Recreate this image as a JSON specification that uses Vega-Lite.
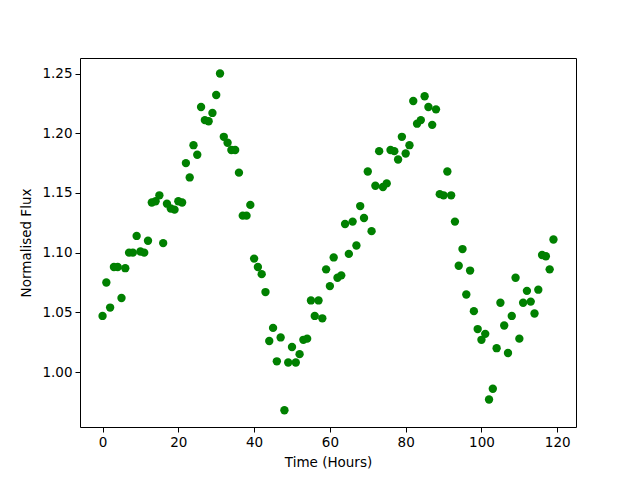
{
  "$schema": "https://vega.github.io/schema/vega-lite/v6.json",
  "width": 496,
  "height": 369,
  "autosize": "none",
  "padding": {"left": 80, "top": 58, "right": 64, "bottom": 53},
  "background": "white",
  "config": {
    "view": {"stroke": "black", "strokeWidth": 1},
    "axis": {
      "grid": false,
      "domain": false,
      "tickColor": "black",
      "tickSize": 5,
      "tickWidth": 1,
      "labelFont": "DejaVu Sans",
      "labelFontSize": 13.5,
      "labelColor": "black",
      "labelPadding": 3,
      "titleFont": "DejaVu Sans",
      "titleFontSize": 13.5,
      "titleFontWeight": "normal",
      "titleColor": "black"
    }
  },
  "data": {
    "values": [
      {"t":0,"f":1.047},{"t":1,"f":1.075},{"t":2,"f":1.054},{"t":3,"f":1.088},{"t":4,"f":1.088},
      {"t":5,"f":1.062},{"t":6,"f":1.087},{"t":7,"f":1.100},{"t":8,"f":1.100},{"t":9,"f":1.114},
      {"t":10,"f":1.101},{"t":11,"f":1.100},{"t":12,"f":1.110},{"t":13,"f":1.142},{"t":14,"f":1.143},
      {"t":15,"f":1.148},{"t":16,"f":1.108},{"t":17,"f":1.141},{"t":18,"f":1.137},{"t":19,"f":1.136},
      {"t":20,"f":1.143},{"t":21,"f":1.142},{"t":22,"f":1.175},{"t":23,"f":1.163},{"t":24,"f":1.190},
      {"t":25,"f":1.182},{"t":26,"f":1.222},{"t":27,"f":1.211},{"t":28,"f":1.210},{"t":29,"f":1.217},
      {"t":30,"f":1.232},{"t":31,"f":1.250},{"t":32,"f":1.197},{"t":33,"f":1.192},{"t":34,"f":1.186},
      {"t":35,"f":1.186},{"t":36,"f":1.167},{"t":37,"f":1.131},{"t":38,"f":1.131},{"t":39,"f":1.140},
      {"t":40,"f":1.095},{"t":41,"f":1.088},{"t":42,"f":1.082},{"t":43,"f":1.067},{"t":44,"f":1.026},
      {"t":45,"f":1.037},{"t":46,"f":1.009},{"t":47,"f":1.029},{"t":48,"f":0.968},{"t":49,"f":1.008},
      {"t":50,"f":1.021},{"t":51,"f":1.008},{"t":52,"f":1.015},{"t":53,"f":1.027},{"t":54,"f":1.028},
      {"t":55,"f":1.060},{"t":56,"f":1.047},{"t":57,"f":1.060},{"t":58,"f":1.045},{"t":59,"f":1.086},
      {"t":60,"f":1.072},{"t":61,"f":1.096},{"t":62,"f":1.079},{"t":63,"f":1.081},{"t":64,"f":1.124},
      {"t":65,"f":1.099},{"t":66,"f":1.126},{"t":67,"f":1.106},{"t":68,"f":1.139},{"t":69,"f":1.129},
      {"t":70,"f":1.168},{"t":71,"f":1.118},{"t":72,"f":1.156},{"t":73,"f":1.185},{"t":74,"f":1.155},
      {"t":75,"f":1.158},{"t":76,"f":1.186},{"t":77,"f":1.185},{"t":78,"f":1.178},{"t":79,"f":1.197},
      {"t":80,"f":1.183},{"t":81,"f":1.190},{"t":82,"f":1.227},{"t":83,"f":1.208},{"t":84,"f":1.211},
      {"t":85,"f":1.231},{"t":86,"f":1.222},{"t":87,"f":1.207},{"t":88,"f":1.220},{"t":89,"f":1.149},
      {"t":90,"f":1.148},{"t":91,"f":1.168},{"t":92,"f":1.148},{"t":93,"f":1.126},{"t":94,"f":1.089},
      {"t":95,"f":1.103},{"t":96,"f":1.065},{"t":97,"f":1.085},{"t":98,"f":1.051},{"t":99,"f":1.036},
      {"t":100,"f":1.027},{"t":101,"f":1.032},{"t":102,"f":0.977},{"t":103,"f":0.986},{"t":104,"f":1.020},
      {"t":105,"f":1.058},{"t":106,"f":1.039},{"t":107,"f":1.016},{"t":108,"f":1.047},{"t":109,"f":1.079},
      {"t":110,"f":1.028},{"t":111,"f":1.058},{"t":112,"f":1.068},{"t":113,"f":1.059},{"t":114,"f":1.049},
      {"t":115,"f":1.069},{"t":116,"f":1.098},{"t":117,"f":1.097},{"t":118,"f":1.086},{"t":119,"f":1.111}
    ]
  },
  "mark": {"type": "circle", "color": "#008000", "opacity": 1, "size": 70},
  "encoding": {
    "x": {
      "field": "t", "type": "quantitative", "title": "Time (Hours)",
      "scale": {"domain": [-5.95, 124.95], "nice": false, "zero": false},
      "axis": {"values": [0, 20, 40, 60, 80, 100, 120], "titlePadding": 7}
    },
    "y": {
      "field": "f", "type": "quantitative", "title": "Normalised Flux",
      "scale": {"domain": [0.954, 1.263], "nice": false, "zero": false},
      "axis": {"values": [1.0, 1.05, 1.1, 1.15, 1.2, 1.25], "format": ".2f", "titlePadding": 8}
    }
  }
}
